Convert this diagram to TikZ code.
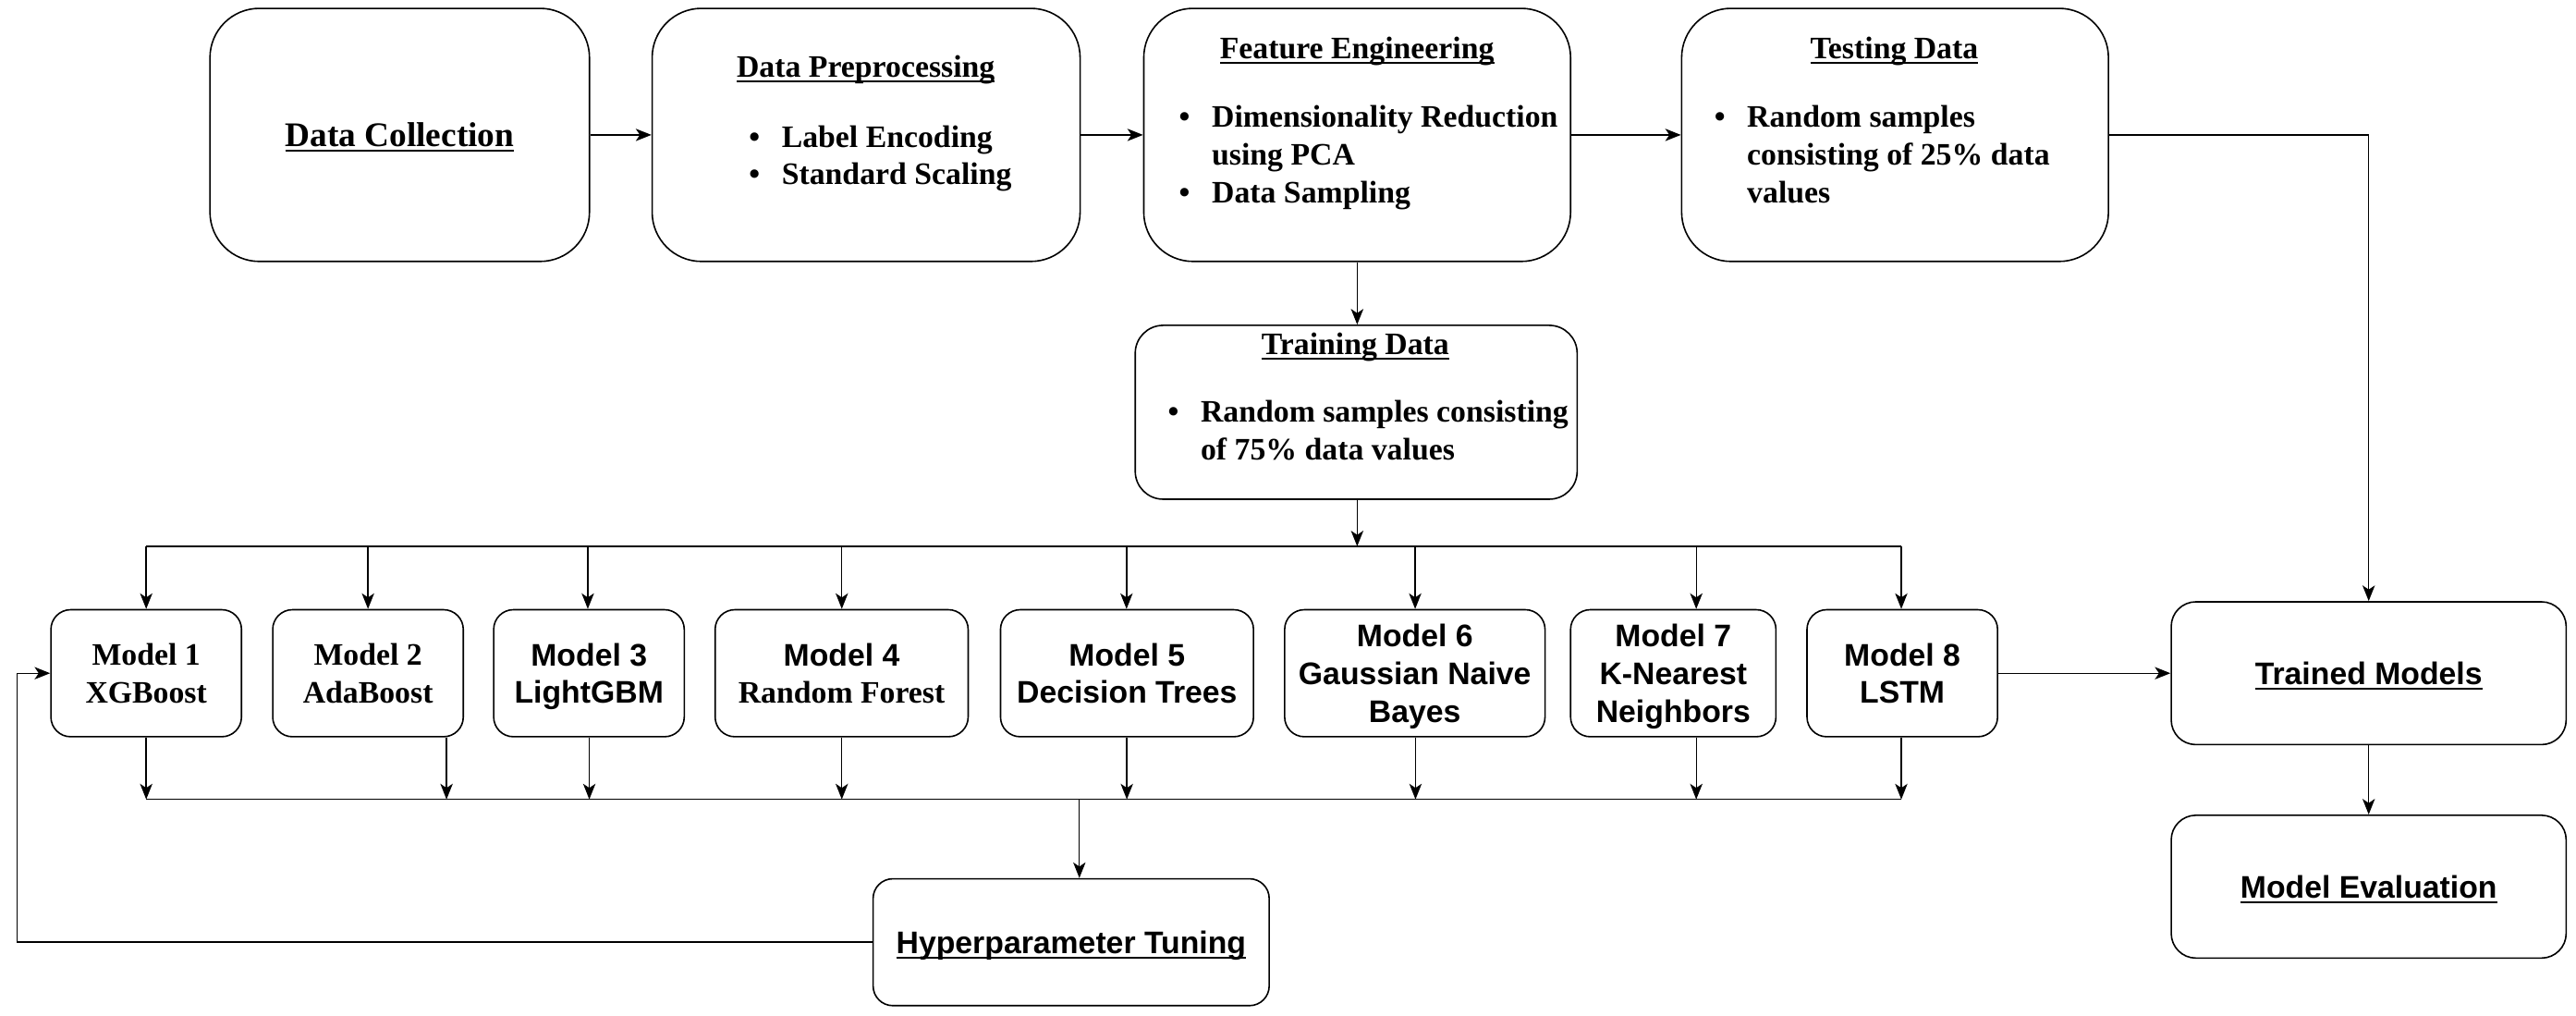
\documentclass[tikz,border=0pt]{standalone}
\usepackage{fontspec}
\setmainfont{Liberation Serif}
\setsansfont{Liberation Sans}
\usetikzlibrary{arrows.meta}

\newsavebox\ulbox
\newcommand{\ulined}[1]{\sbox\ulbox{#1}\rlap{\rule[-3pt]{\wd\ulbox}{1.2pt}}\usebox\ulbox}
\newcommand{\bigfont}{\fontsize{19}{23}\selectfont\bfseries}
\newcommand{\blist}[1]{\begin{tabular}[t]{@{}l@{\hspace{13.3pt}}l@{}}#1\end{tabular}}

\tikzset{
	box/.style={draw, line width=0.9pt, rounded corners=#1, inner sep=0pt, text depth=0pt, align=center, font=\bigfont},
	box/.default=12pt,
	sansbox/.style={box=#1, font=\bigfont\sffamily},
	sansbox/.default=12pt,
	txt/.style={inner sep=0pt, anchor=base, font=\bigfont},
	lst/.style={inner sep=0pt, anchor=base west, font=\bigfont},
	arr/.style={-{Stealth[length=9.5pt,width=7.5pt,inset=2.5pt]}, line width=0.8pt},
}

\begin{document}
\begin{tikzpicture}[x=1pt,y=-1pt]
	\useasboundingbox (0,0) rectangle (1568,617.8);
	% top row
	\node[box=30pt, minimum width=231pt, minimum height=154pt] (dc) at (243.3,82.1) {\fontsize{21}{25}\selectfont\ulined{Data Collection}};
	\node[box=30pt, minimum width=260.5pt, minimum height=154pt] (dp) at (527.2,82.1) {};
	\node[box=30pt, minimum width=259.8pt, minimum height=154pt] (fe) at (826.1,82.1) {};
	\node[box=30pt, minimum width=259.8pt, minimum height=154pt] (ts) at (1153.5,82.1) {};
	\node[box=17pt, minimum width=269pt, minimum height=105.8pt] (td) at (825.5,250.9) {};
	\node[txt] (dpT) at (527,47) {\ulined{Data Preprocessing}};
	\node[lst] (dpL) at (455.7,89.5) {\blist{\textbullet & Label Encoding\\ \textbullet & Standard Scaling}};
	\node[txt] (feT) at (826,36) {\ulined{Feature Engineering}};
	\node[lst] (feL) at (717.5,77.4) {\blist{\textbullet & Dimensionality Reduction\\ & using PCA\\ \textbullet & Data Sampling}};
	\node[txt] (tsT) at (1153,36) {\ulined{Testing Data}};
	\node[lst] (tsL) at (1043.3,77.4) {\blist{\textbullet & Random samples\\ & consisting of 25\% data\\ & values}};
	\node[txt] (tdT) at (825,216) {\ulined{Training Data}};
	\node[lst] (tdL) at (710.7,257) {\blist{\textbullet & Random samples consisting\\ & of 75\% data values}};
	% models
	\node[box, minimum width=116pt, minimum height=77.3pt] (m1) at (89,409.7) {Model 1\\XGBoost};
	\node[box, minimum width=116pt, minimum height=77.3pt] (m2) at (224,409.7) {Model 2\\AdaBoost};
	\node[sansbox, minimum width=116pt, minimum height=77.3pt] (m3) at (358.5,409.7) {Model 3\\LightGBM};
	\node[box, minimum width=154pt, minimum height=77.3pt] (m4) at (512.3,409.7) {{\sffamily Model 4}\\Random Forest};
	\node[sansbox, minimum width=154pt, minimum height=77.3pt] (m5) at (686,409.7) {Model 5\\Decision Trees};
	\node[sansbox, minimum width=158.5pt, minimum height=77.3pt] (m6) at (861.2,409.7) {Model 6\\Gaussian Naive\\Bayes};
	\node[sansbox, minimum width=125pt, minimum height=77.3pt] (m7) at (1018.5,409.7) {Model 7\\K-Nearest\\Neighbors};
	\node[sansbox, minimum width=116pt, minimum height=77.3pt] (m8) at (1157.9,409.7) {Model 8\\LSTM};
	% right column and tuning
	\node[sansbox=15pt, minimum width=240.4pt, minimum height=86.9pt] (tm) at (1441.8,409.7) {\ulined{Trained Models}};
	\node[sansbox=15pt, minimum width=240.4pt, minimum height=86.9pt] (me) at (1441.8,539.6) {\ulined{Model Evaluation}};
	\node[sansbox, minimum width=241.1pt, minimum height=77.2pt] (hp) at (652,573.4) {\ulined{Hyperparameter Tuning}};
	% bus lines
	\coordinate (tbl) at (89,332.5);
	\coordinate (tbr) at (1157.3,332.5);
	\coordinate (bbl) at (89,486.5);
	\coordinate (bbr) at (1157.3,486.5);
	\draw[line width=0.8pt] (tbl) -- (tbr);
	\draw[line width=0.8pt] (bbl) -- (bbr);
	% connectors
	\draw[arr] (dc.east) -- (dp.west);
	\draw[arr] (dp.east) -- (fe.west);
	\draw[arr] (fe.east) -- (ts.west);
	\draw[arr] (fe.south) -- (fe.south |- td.north);
	\draw[arr] (fe.south |- td.south) -- (fe.south |- tbl);
	\foreach \m/\xt/\xb in {m1/89/89, m2/224/271.8, m3/357.8/358.7, m4/512.4/512.4, m5/685.7/685.9, m6/861.4/861.6, m7/1032.5/1032.5, m8/1157.3/1157.3} {
		\draw[arr] (\xt,0 |- tbl) -- (\xt,0 |- \m.north);
		\draw[arr] (\xb,0 |- \m.south) -- (\xb,0 |- bbl);
	}
	\draw[arr] (657,0 |- bbl) -- (657,0 |- hp.north);
	\draw[arr] (hp.west) -| ([xshift=-20pt]m1.west) -- (m1.west);
	\draw[arr] (ts.east) -| (tm.north);
	\draw[arr] (m8.east) -- (tm.west);
	\draw[arr] (tm.south) -- (me.north);
\end{tikzpicture}
\end{document}
